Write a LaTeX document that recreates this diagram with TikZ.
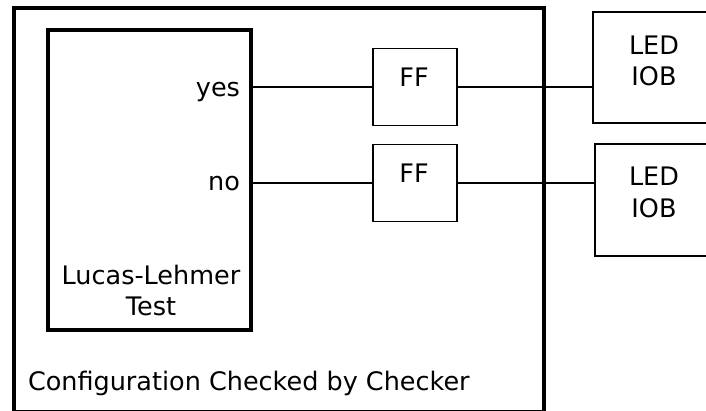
\documentclass[tikz,border=0pt]{standalone}
\usepackage{fontspec}
\setmainfont{DejaVu Sans}
\begin{document}
\begin{tikzpicture}[x=1pt,y=-1pt,
  every node/.style={font=\fontsize{25.5}{31}\selectfont},
  box/.style={draw=black, inner sep=0pt, outer sep=0pt},
  lbl/.style={inner sep=0pt, outer sep=0pt},
  wire/.style={draw=black, line width=1.6pt}]
\useasboundingbox (0,0) rectangle (706,411);
\clip (0,0) rectangle (706,411);
% outer configuration box
\node[box, line width=4.5pt, minimum width=530pt, minimum height=404pt] (outer) at (279,210) {};
% Lucas-Lehmer box
\node[box, line width=3.2pt, minimum width=203pt, minimum height=300pt] (ll) at (149.5,180) {};
% flip-flops
\node[box, line width=1.5pt, minimum width=84pt, minimum height=77pt] (ff1) at (415,87) {};
\node[box, line width=1.5pt, minimum width=84pt, minimum height=77pt] (ff2) at (415,183) {};
% LED IOBs
\node[box, line width=1.7pt, minimum width=122pt, minimum height=111pt] (led1) at (654,67.5) {};
\node[box, line width=1.7pt, minimum width=120pt, minimum height=112pt] (led2) at (655,200) {};
% texts
\node[lbl, anchor=base east] (yes) at (240,97) {yes};
\node[lbl, anchor=base east] (no) at (240,191) {no};
\node[lbl, anchor=base] (ff1t) at (414,87) {FF};
\node[lbl, anchor=base] (ff2t) at (414,183) {FF};
\node[lbl, anchor=base] (led1a) at (654,55) {LED};
\node[lbl, anchor=base] (led1b) at (654,86) {IOB};
\node[lbl, anchor=base] (led2a) at (654,186) {LED};
\node[lbl, anchor=base] (led2b) at (654,218) {IOB};
\node[lbl, anchor=base] (llt1) at (151,285) {Lucas-Lehmer};
\node[lbl, anchor=base] (llt2) at (151,316) {Test};
\node[lbl, anchor=base west] (cfg) at (28,390) {Configuration Checked by Checker};
% wires
\draw[wire] (ff1.west -| ll.east) -- (ff1.west);
\draw[wire] (ff1.east) -- (ff1.east -| led1.west);
\draw[wire] (ff2.west -| ll.east) -- (ff2.west);
\draw[wire] (ff2.east) -- (ff2.east -| led2.west);
\end{tikzpicture}
\end{document}
